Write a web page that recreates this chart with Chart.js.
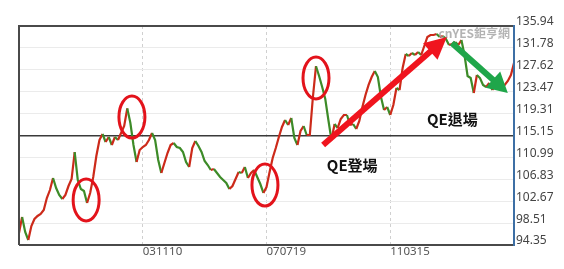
<!DOCTYPE html>
<html><head><meta charset="utf-8">
<script src="https://cdn.jsdelivr.net/npm/chart.js@4.4.1/dist/chart.umd.min.js"></script>
<style>html,body{margin:0;padding:0;background:#fff;} #wrap{width:564px;height:269px;}</style>
</head><body><div id="wrap"><canvas id="c" width="564" height="269"></canvas></div>
<script>
const values = [
 96.63, 99.67, 96.82, 95.30, 97.96, 99.29, 99.86,100.24,101.00,103.28,
104.79,107.07,105.17,103.85,103.09,103.85,105.55,106.88,112.01,106.69,
104.98,104.60,102.33,104.23,107.26,111.25,114.29,115.43,113.91,114.86,
113.34,114.86,114.29,115.62,116.95,120.30,117.52,113.34,110.11,112.39,
112.96,113.34,114.29,115.62,114.29,110.49,108.02,109.92,111.82,113.34,
113.72,112.96,112.77,112.01,110.11,109.16,112.77,114.10,113.15,112.01,
110.30,109.54,108.59,108.78,108.02,107.26,106.69,106.12,104.98,105.55,
106.88,108.21,108.02,109.16,107.07,108.02,108.59,107.26,105.93,104.23,
105.36,108.21,110.87,112.77,114.86,116.76,118.09,117.14,118.47,114.67,
113.34,116.00,116.95,115.24,115.24,122.46,128.30,126.44,124.36,122.08,
118.09,114.29,117.33,116.57,118.28,119.04,119.04,117.14,117.33,116.38,
117.90,120.56,122.84,124.74,126.25,127.39,126.25,122.46,119.99,120.56,
119.04,120.94,124.17,123.79,127.96,130.62,130.24,130.81,130.43,131.00,
130.43,132.14,133.85,134.23,134.23,134.42,133.85,134.04,133.47,132.33,
132.52,132.90,132.33,133.28,130.43,126.44,126.06,123.22,126.63,126.06,
124.74,124.36,125.12,123.79,124.74,125.12,124.36,124.74,125.49,126.63,
128.91];
const yTicks = [94.35, 98.51, 102.67, 106.83, 110.99, 115.15, 119.31, 123.47, 127.62, 131.78, 135.94];
const xTickIndex = [40, 80, 120];
const xTickLabels = ['031110', '070719', '110315'];
const levelLine = 115.15;
const circles = [[21.7, 102.9], [36.5, 118.66], [79.5, 105.74], [96, 126.07]];
const upArrow = [[98.3, 113.34], [138.3, 133.85]];
const downArrow = [[139.9, 132.71], [158, 123.22]];
const notes = [{text: 'QE登場', at: [99.5, 109.54]}, {text: 'QE退場', at: [131.9, 118.28]}];
const watermark = 'cnYES鉅亨網';

const UP = '#cc2a1a', DOWN = '#3d8b28';

function arrow(ctx, x1, y1, x2, y2, color, w, hl, hw) {
  const dx = x2 - x1, dy = y2 - y1, L = Math.hypot(dx, dy), ux = dx / L, uy = dy / L;
  const bx = x2 - ux * hl, by = y2 - uy * hl;
  ctx.strokeStyle = color; ctx.fillStyle = color; ctx.lineWidth = w; ctx.lineCap = 'butt';
  ctx.beginPath(); ctx.moveTo(x1, y1); ctx.lineTo(bx + ux * 2, by + uy * 2); ctx.stroke();
  ctx.beginPath(); ctx.moveTo(x2, y2);
  ctx.lineTo(bx - uy * hw / 2, by + ux * hw / 2);
  ctx.lineTo(bx + uy * hw / 2, by - ux * hw / 2);
  ctx.closePath(); ctx.fill();
}

const overlay = {
  id: 'overlay',
  afterDatasetsDraw(chart) {
    const {ctx, chartArea: a, scales: {x, y}} = chart;
    ctx.save();
    ctx.lineWidth = 2; ctx.strokeStyle = '#4a4a4a';
    ctx.beginPath(); ctx.moveTo(a.left, a.bottom); ctx.lineTo(a.left, a.top); ctx.lineTo(a.right, a.top); ctx.stroke();
    ctx.beginPath(); ctx.moveTo(a.left, a.bottom); ctx.lineTo(a.right, a.bottom); ctx.stroke();
    ctx.strokeStyle = '#3d6fa5';
    ctx.beginPath(); ctx.moveTo(a.right, a.top - 1); ctx.lineTo(a.right, a.bottom + 1); ctx.stroke();

    ctx.font = 'bold 12px "Noto Sans CJK TC", "Noto Sans"';
    ctx.fillStyle = 'rgba(160,160,160,0.8)';
    ctx.textAlign = 'right'; ctx.textBaseline = 'middle';
    ctx.fillText(watermark, a.right - 4, a.top + 7);

    ctx.strokeStyle = '#e3131b'; ctx.lineWidth = 3;
    circles.forEach(([i, v]) => {
      ctx.beginPath();
      ctx.ellipse(x.getPixelForValue(i), y.getPixelForValue(v), 13, 21, 0, 0, Math.PI * 2);
      ctx.stroke();
    });
    const P = p => [x.getPixelForValue(p[0]), y.getPixelForValue(p[1])];
    const [u1, u2] = upArrow.map(P), [d1, d2] = downArrow.map(P);
    arrow(ctx, u1[0], u1[1], u2[0], u2[1], '#f0141e', 6, 22, 22);
    arrow(ctx, d1[0], d1[1], d2[0], d2[1], '#1fa64a', 6, 20, 22);

    ctx.font = 'bold 15px "Noto Sans CJK TC", "Noto Sans"';
    ctx.fillStyle = '#111'; ctx.textAlign = 'left'; ctx.textBaseline = 'middle';
    notes.forEach(n => { const [px, py] = P(n.at); ctx.fillText(n.text, px, py); });
    ctx.restore();
  }
};

new Chart(document.getElementById('c'), {
  type: 'line',
  data: {datasets: [{
    data: values.map((v, i) => ({x: i, y: v})),
    borderWidth: 2.2, pointRadius: 0, tension: 0, borderColor: UP,
    segment: {borderColor: c => c.p1.parsed.y >= c.p0.parsed.y ? UP : DOWN}
  }]},
  options: {
    responsive: false, animation: false,
    layout: {padding: {left: 19, top: 26, right: 0, bottom: 0}},
    plugins: {legend: {display: false}, tooltip: {enabled: false}},
    scales: {
      x: {
        type: 'linear', min: 0, max: values.length - 1,
        afterBuildTicks: s => { s.ticks = xTickIndex.map(v => ({value: v})); },
        afterFit: s => { s.height = 24; },
        ticks: {align: 'start', autoSkip: false, maxRotation: 0, padding: 0, color: '#555',
          font: {size: 11.5, family: '"Noto Sans"'},
          callback: v => { const k = xTickIndex.indexOf(v); return k >= 0 ? xTickLabels[k] : ''; }},
        grid: {color: '#d0d0d0', lineWidth: 1, drawTicks: false},
        border: {display: false, dash: [3, 3]}
      },
      y: {
        position: 'right', min: yTicks[0], max: yTicks[yTicks.length - 1],
        afterBuildTicks: s => { s.ticks = yTicks.map(v => ({value: v})); },
        afterFit: s => { s.width = 50; },
        ticks: {labelOffset: -4, padding: 2, color: '#444', font: {size: 12, family: '"Noto Sans"'},
          callback: v => Number(v).toFixed(2)},
        grid: {
          color: c => (c.tick && Math.abs(c.tick.value - levelLine) < 0.01) ? '#3a3a3a' : '#ebebeb',
          lineWidth: c => (c.tick && Math.abs(c.tick.value - levelLine) < 0.01) ? 1.5 : 1,
          drawTicks: false
        },
        border: {display: false}
      }
    }
  },
  plugins: [overlay]
});
</script>
</body></html>
